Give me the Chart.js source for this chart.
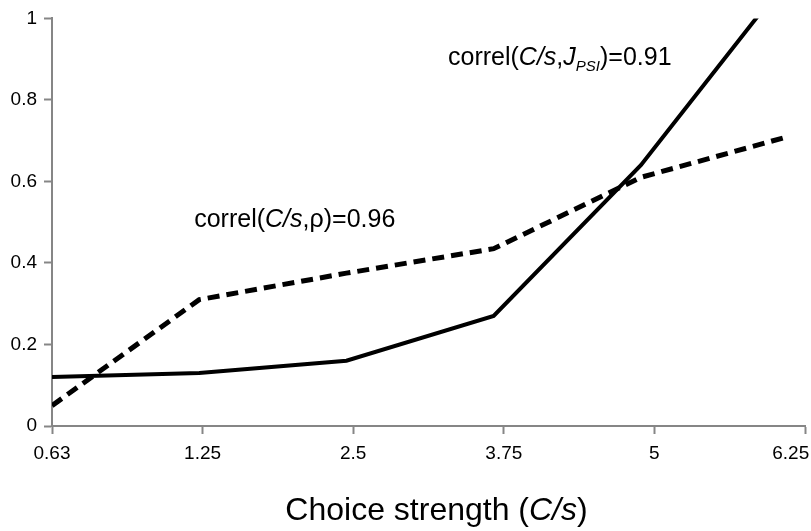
<!DOCTYPE html>
<html>
<head>
<meta charset="utf-8">
<script src="https://cdn.jsdelivr.net/npm/chart.js@4"></script>
<style>
  html, body { margin: 0; padding: 0; background: #ffffff; }
  #wrap { width: 811px; height: 531px; }
</style>
</head>
<body>
<div id="wrap"><canvas id="c" width="811" height="531"></canvas></div>
<script>
// ---- data ----
const categories = ['0.63', '1.25', '2.5', '3.75', '5', '6.25'];
const jPsiValues = [0.12, 0.13, 0.16, 0.27, 0.64, 1.1];   // solid line
const rhoValues  = [0.05, 0.31, 0.375, 0.435, 0.61, 0.71]; // dashed line
const yTickValues = [0, 0.2, 0.4, 0.6, 0.8, 1];
const yTickLabels = ['0', '0.2', '0.4', '0.6', '0.8', '1'];

// ---- layout / style ----
const FONT = '"Liberation Sans", Arial, sans-serif';
const AXIS_GREY = '#868686';
const xStretch = 1.023;                 // axis ticks span slightly wider than data
const xMax = (categories.length - 1) * xStretch;

function drawRuns(ctx, runs, x, y, align) {
  let total = 0;
  runs.forEach(r => { ctx.font = r.font; r.w = ctx.measureText(r.text).width; total += r.w; });
  let cx = align === 'center' ? x - total / 2 : x;
  runs.forEach(r => {
    ctx.font = r.font;
    ctx.fillText(r.text, cx, y + (r.dy || 0));
    cx += r.w;
  });
}

const textPlugin = {
  id: 'texts',
  afterDraw(chart) {
    const ctx = chart.ctx;
    const xs = chart.scales.x, ys = chart.scales.y;
    ctx.save();
    ctx.fillStyle = '#000';
    ctx.textBaseline = 'alphabetic';
    ctx.textAlign = 'left';
    const f = (s, it) => (it ? 'italic ' : '') + s + 'px ' + FONT;
    // annotation for J_PSI
    drawRuns(ctx, [
      { text: 'correl(', font: f(25) },
      { text: 'C/s', font: f(25, true) },
      { text: ',', font: f(25) },
      { text: 'J', font: f(25, true) },
      { text: 'PSI', font: f(15, true), dy: 6 },
      { text: ')=0.91', font: f(25) }
    ], xs.getPixelForValue(2.69), ys.getPixelForValue(0.885), 'left');
    // annotation for rho
    drawRuns(ctx, [
      { text: 'correl(', font: f(25) },
      { text: 'C/s', font: f(25, true) },
      { text: ',\u03c1)=0.96', font: f(25) }
    ], xs.getPixelForValue(0.966), ys.getPixelForValue(0.489), 'left');
    // x axis title
    const ca = chart.chartArea;
    drawRuns(ctx, [
      { text: 'Choice strength (', font: f(32) },
      { text: 'C/s', font: f(32, true) },
      { text: ')', font: f(32) }
    ], (ca.left + ca.right) / 2 + 8, 520, 'center');
    ctx.restore();
  }
};

const toPoints = arr => arr.map((v, i) => ({ x: i, y: v }));

new Chart(document.getElementById('c'), {
  type: 'line',
  data: {
    datasets: [
      {
        label: 'J_PSI',
        data: toPoints(jPsiValues),
        borderColor: '#000',
        borderWidth: 4,
        pointRadius: 0,
        tension: 0,
        fill: false
      },
      {
        label: 'rho',
        data: toPoints(rhoValues),
        borderColor: '#000',
        borderWidth: 5,
        borderDash: [12, 7],
        pointRadius: 0,
        tension: 0,
        fill: false
      }
    ]
  },
  options: {
    responsive: false,
    animation: false,
    devicePixelRatio: 1,
    layout: { padding: { top: 17, right: 6, left: 0, bottom: 0 } },
    plugins: { legend: { display: false }, tooltip: { enabled: false }, title: { display: false } },
    scales: {
      x: {
        type: 'linear',
        min: 0,
        max: xMax,
        afterBuildTicks: s => { s.ticks = categories.map((c, i) => ({ value: i * xMax / (categories.length - 1) })); },
        afterFit: s => { s.height = 105; s.paddingRight = 0; s.paddingLeft = 0; },
        grid: { drawOnChartArea: false, drawTicks: true, tickLength: 8, tickWidth: 2, tickColor: AXIS_GREY },
        border: { color: AXIS_GREY, width: 2 },
        ticks: {
          autoSkip: false,
          maxRotation: 0,
          padding: 8,
          color: '#000',
          font: { family: FONT, size: 19 },
          callback: (v, i) => i === categories.length - 1 ? categories[i] + '\u2002\u2002\u2002' : categories[i]
        }
      },
      y: {
        min: 0,
        max: 1,
        afterBuildTicks: s => { s.ticks = yTickValues.map(v => ({ value: v })); },
        afterFit: s => { s.width = 52; },
        grid: { drawOnChartArea: false, drawTicks: true, tickLength: 8, tickWidth: 2, tickColor: AXIS_GREY },
        border: { color: AXIS_GREY, width: 2 },
        ticks: {
          padding: 7,
          color: '#000',
          font: { family: FONT, size: 19 },
          callback: (v, i) => yTickLabels[i]
        }
      }
    }
  },
  plugins: [textPlugin]
});
</script>
</body>
</html>
